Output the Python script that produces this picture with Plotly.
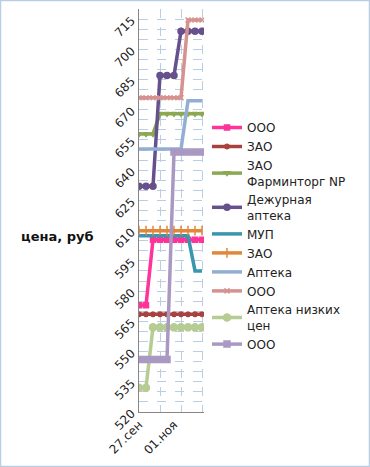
import plotly.graph_objects as go

# ---- data ----
dates = ["2012-09-27", "2012-10-04", "2012-10-11", "2012-10-18", "2012-10-25",
         "2012-11-01", "2012-11-08", "2012-11-15", "2012-11-22", "2012-11-29"]
tick_dates = ["2012-09-27", "2012-11-01"]
tick_text = ["27.сен", "01.ноя"]
grid_dates = ["2012-09-27", "2012-10-18", "2012-11-08", "2012-11-29"]

names = ["ООО", "ЗАО", "ЗАО<br>Фарминторг NP", "Дежурная<br>аптека", "МУП",
         "ЗАО", "Аптека", "ООО", "Аптека низких<br>цен", "ООО"]

ooo_1 = [573, 573, 605.5, 605.5, 605.5, 605.5, 605.5, 605.5, 605.5, 605.5]
zao_1 = [568.5, 568.5, 568.5, 568.5, 568.5, 568.5, 568.5, 568.5, 568.5, 568.5]
farmintorg = [658, 658, 658, 668, 668, 668, 668, 668, 668, 668]
dezhurnaya = [632, 632, 632, 687, 687, 687, 709, 709, 709, 709]
mup = [607.5, 607.5, 607.5, 607.5, 607.5, 607.5, 607.5, 607.5, 590, 590]
zao_2 = [610, 610, 610, 610, 610, 610, 610, 610, 610, 610]
apteka = [650.5, 650.5, 650.5, 650.5, 650.5, 650.5, 650.5, 674.5, 674.5, 674.5]
ooo_2 = [676, 676, 676, 676, 676, 676, 676, 714.5, 714.5, 714.5]
nizkih = [532, 532, 562, 562, 562, 562, 562, 562, 562, 562]
ooo_3 = [546, 546, 546, 546, 546, 649, 649, 649, 649, 649]

series = [ooo_1, zao_1, farmintorg, dezhurnaya, mup, zao_2, apteka, ooo_2, nizkih, ooo_3]

y_min, y_max = 520, 720
x_range = ["2012-09-27", "2012-12-01"]

# ---- styles ----
colors = ["#FF3399", "#A8423F", "#8DA852", "#67518C", "#3A96AE",
          "#E2873A", "#93AED3", "#D6928F", "#B6CC92", "#A999C2"]
symbols = ["square", "asterisk-open", "triangle-down", "circle", None,
           "line-ns-open", None, "x-thin-open", "circle", "square"]
msizes = [5, 5, 5, 6, 0, 7, 0, 5, 7, 6]

fig = go.Figure()
for vals, name, col, sym, ms in zip(series, names, colors, symbols, msizes):
    if sym is None:
        fig.add_trace(go.Scatter(x=dates, y=vals, name=name, mode="lines",
                                 line=dict(color=col, width=3.5)))
    else:
        fig.add_trace(go.Scatter(x=dates, y=vals, name=name, mode="lines+markers",
                                 line=dict(color=col, width=3.5),
                                 marker=dict(symbol=sym, size=ms, color=col,
                                             line=dict(color=col, width=1.5))))

W, H = 370, 467
L, R, T, B = 139, 166, 9, 55
pw, ph = W - L - R, H - T - B

def px_x(p):
    return (p - L) / pw

def px_y(p):
    return (H - B - p) / ph

grid_col = "#B9CDE5"
fig.update_layout(
    width=W, height=H,
    margin=dict(l=L, r=R, t=T, b=B, autoexpand=False),
    paper_bgcolor="white", plot_bgcolor="white",
    font=dict(family="DejaVu Sans", size=12, color="#222222"),
    showlegend=True,
    legend=dict(x=px_x(207), y=px_y(113), xanchor="left", yanchor="top",
                font=dict(family="DejaVu Sans", size=12, color="#222222"),
                tracegroupgap=0, bgcolor="rgba(0,0,0,0)", itemwidth=30),
    xaxis=dict(type="date", range=x_range, tickmode="array",
               tickvals=tick_dates, ticktext=tick_text, tickangle=-45,
               showgrid=False, showline=True, linecolor="#868686", linewidth=1,
               ticks="", zeroline=False,
               minor=dict(tickmode="array", tickvals=grid_dates, showgrid=True,
                          gridcolor=grid_col, griddash="dash", gridwidth=1, ticks="")),
    yaxis=dict(range=[y_min, y_max], tickmode="linear", tick0=520, dtick=15,
               tickangle=-45, showgrid=True, gridcolor=grid_col, griddash="dash",
               showline=True, linecolor="#868686", linewidth=1, ticks="",
               zeroline=False, ticklabelstandoff=4,
               minor=dict(tick0=520, dtick=5, showgrid=True, gridcolor=grid_col,
                          griddash="dash", gridwidth=1, ticks="")),
    annotations=[dict(text="<b>цена, руб</b>", x=px_x(96), y=px_y(236),
                      xref="paper", yref="paper", showarrow=False,
                      xanchor="right", yanchor="middle",
                      font=dict(family="DejaVu Sans", size=13, color="#111111"))],
    shapes=[dict(type="rect", xref="paper", yref="paper",
                 x0=px_x(0.5), x1=px_x(369.5), y0=px_y(466.5), y1=px_y(0.5),
                 line=dict(color="#B9CDE5", width=1.5), layer="below")],
)

fig.write_html("out.html", config={"displayModeBar": False},
               post_script="document.body.style.margin='0';")
